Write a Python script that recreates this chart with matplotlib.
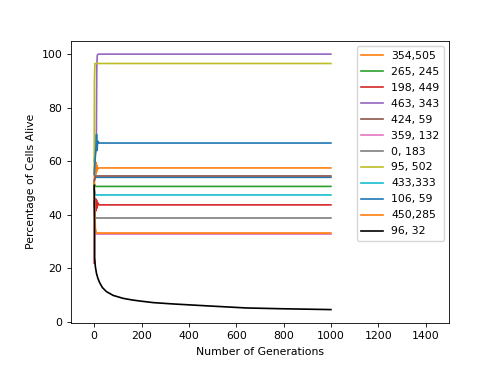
import matplotlib
matplotlib.use("Agg")
import matplotlib.pyplot as plt

# ---- data ----
labels = ["354,505", "265, 245", "198, 449", "463, 343", "424, 59", "359, 132",
          "0, 183", "95, 502", "433,333", "106, 59", "450,285", "96, 32"]
colors = ["C1", "C2", "C3", "C4", "C5", "C6", "C7", "C8", "C9", "C0", "C1", "black"]

# unlabeled first series (C0)
hidden_x = [0, 5, 1000]
hidden_y = [53, 54.0, 54.0]

s1_x = [0, 4, 6, 8, 10, 12, 14, 20, 1000]
s1_y = [52, 60, 55, 59.5, 56, 58.5, 57, 57.5, 57.5]
s2_x = [0, 5, 1000]
s2_y = [52, 50.6, 50.6]
s3_x = [0, 3, 6, 8, 10, 12, 15, 20, 1000]
s3_y = [22, 43, 46, 41.5, 45.5, 42.5, 44.5, 43.7, 43.7]
s4_x = [0, 9, 11, 13, 17, 1000]
s4_y = [60, 65, 95, 99.5, 100, 100]
s5_x = [0, 5, 1000]
s5_y = [52, 54.5, 54.5]
s6_x = [0, 5, 1000]
s6_y = [45, 32.8, 32.8]
s7_x = [0, 5, 1000]
s7_y = [45, 38.8, 38.8]
s8_x = [0, 1, 3, 1000]
s8_y = [56, 90, 96.5, 96.5]
s9_x = [0, 5, 1000]
s9_y = [50, 47.4, 47.4]
s10_x = [0, 8, 10, 12, 15, 20, 1000]
s10_y = [55, 66, 70, 64, 67.5, 66.8, 66.8]
s11_x = [0, 5, 8, 12, 1000]
s11_y = [52, 35, 33.6, 33.2, 33.2]
s12_x = [0, 2, 5, 10, 16, 24, 35, 52, 80, 122, 160, 193, 250, 334, 475, 644, 800, 1000]
s12_y = [51, 24, 20.6, 18, 16.2, 14.5, 12.8, 11.3, 9.9, 8.8, 8.2, 7.8, 7.2, 6.7, 6.0, 5.2, 4.9, 4.6]

series_x = [s1_x, s2_x, s3_x, s4_x, s5_x, s6_x, s7_x, s8_x, s9_x, s10_x, s11_x, s12_x]
series_y = [s1_y, s2_y, s3_y, s4_y, s5_y, s6_y, s7_y, s8_y, s9_y, s10_y, s11_y, s12_y]

plt.rcParams['font.family'] = ['DejaVu Sans']
plt.rcParams['font.size'] = 7.8

fig = plt.figure(figsize=(4.96, 3.85), dpi=100)
ax = fig.add_axes([0.1431, 0.1618, 0.7627, 0.7317])

ax.plot(hidden_x, hidden_y, color="C0", lw=1.2)
for x, y, lab, c in zip(series_x, series_y, labels, colors):
    ax.plot(x, y, color=c, lw=1.2, label=lab)

ax.set_xlim(-98, 1500)
ax.set_ylim(-0.3, 104.9)
ax.set_xticks([0, 200, 400, 600, 800, 1000, 1200, 1400])
ax.set_yticks([0, 20, 40, 60, 80, 100])
ax.set_xlabel("Number of Generations")
ax.set_ylabel("Percentage of Cells Alive")
ax.tick_params(length=2.8, width=0.6)
for sp in ax.spines.values():
    sp.set_linewidth(0.6)
ax.legend(loc="upper right", labelspacing=0.55)

fig.savefig("out.png", dpi=100)
